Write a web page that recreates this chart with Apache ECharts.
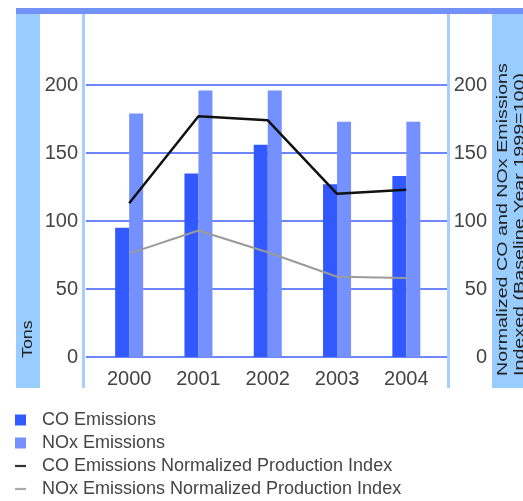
<!DOCTYPE html>
<html>
<head>
<meta charset="utf-8">
<script src="https://cdn.jsdelivr.net/npm/echarts@6/dist/echarts.min.js"></script>
<style>
html,body{margin:0;padding:0;background:#fff;}
#chart{width:523px;height:501px;}
</style>
</head>
<body>
<div id="chart"></div>
<script>
var years = ['2000', '2001', '2002', '2003', '2004'];
var coEmissions = [95, 135, 156, 127, 133];
var noxEmissions = [179, 196, 196, 173, 173];
var coIndex = [113, 177, 174, 120, 123];
var noxIndex = [76, 93, 77, 59, 58];
var yTicks = [0, 50, 100, 150, 200];

var FONT = '"Liberation Sans", Arial, sans-serif';
var chart = echarts.init(document.getElementById('chart'), null, {renderer: 'canvas'});
var DASH = 'path://M0,0 L10,0 L10,2 L0,2 Z';

var option = {
  animation: false,
  backgroundColor: '#ffffff',
  grid: [
    {left: 86, right: 76, top: 85, bottom: 144},
    {left: 94.5, right: 82, top: 85, bottom: 144}
  ],
  xAxis: [
    {type: 'category', gridIndex: 0, data: years, show: false},
    {type: 'category', gridIndex: 1, data: years,
     axisLine: {show: false}, axisTick: {show: false},
     axisLabel: {color: '#444', fontSize: 20, fontFamily: FONT, margin: 12}}
  ],
  yAxis: [
    {type: 'value', gridIndex: 0, min: yTicks[0], max: yTicks[yTicks.length - 1], interval: 50,
     position: 'left',
     axisLine: {show: false}, axisTick: {show: false},
     axisLabel: {color: '#444', fontSize: 20, fontFamily: FONT, margin: 8},
     splitLine: {show: true, lineStyle: {color: '#3c5cff', width: 1.5}}},
    {type: 'value', gridIndex: 0, min: yTicks[0], max: yTicks[yTicks.length - 1], interval: 50,
     position: 'right',
     axisLine: {show: false}, axisTick: {show: false},
     axisLabel: {color: '#444', fontSize: 20, fontFamily: FONT, margin: 40, align: 'right'},
     splitLine: {show: false}},
    {type: 'value', gridIndex: 1, min: 0, max: 200, show: false},
    {type: 'value', gridIndex: 1, min: 0, max: 200, show: false}
  ],
  legend: {
    orient: 'vertical',
    left: 15,
    top: 411,
    padding: 0,
    itemWidth: 11,
    itemHeight: 11,
    itemGap: 5,
    symbolKeepAspect: true,
    textStyle: {color: '#444', fontSize: 18, fontFamily: FONT, lineHeight: 18, padding: [0, 0, 0, 11]},
    data: [
      {name: 'CO Emissions', icon: 'rect'},
      {name: 'NOx Emissions', icon: 'rect'},
      {name: 'CO Emissions Normalized Production Index', icon: DASH},
      {name: 'NOx Emissions Normalized Production Index', icon: DASH}
    ]
  },
  graphic: [
    {type: 'rect', shape: {x: 16, y: 8, width: 507, height: 6}, style: {fill: '#7292f7'}, z: 0},
    {type: 'rect', shape: {x: 16, y: 14, width: 24, height: 374}, style: {fill: '#99ccff'}, z: 0},
    {type: 'rect', shape: {x: 82, y: 14, width: 3, height: 374}, style: {fill: '#a6cfff'}, z: 0},
    {type: 'rect', shape: {x: 447, y: 14, width: 3, height: 374}, style: {fill: '#a6cfff'}, z: 0},
    {type: 'rect', shape: {x: 492, y: 14, width: 31, height: 374}, style: {fill: '#99ccff'}, z: 0},
    {type: 'text', x: 28, y: 358, rotation: Math.PI / 2, scaleX: 1.15, z: 10,
     style: {text: 'Tons', fill: '#222', fontSize: 15.5, fontFamily: FONT,
             textAlign: 'left', textVerticalAlign: 'middle'}},
    {type: 'text', x: 511, y: 376, rotation: Math.PI / 2, scaleX: 1.27, z: 10,
     style: {text: 'Normalized CO and NOx Emissions\nIndexed (Baseline Year 1999=100)',
             fill: '#222', fontSize: 15.5, lineHeight: 17, fontFamily: FONT,
             textAlign: 'left', textVerticalAlign: 'middle'}}
  ],
  series: [
    {name: 'CO Emissions', type: 'bar', xAxisIndex: 1, yAxisIndex: 2, data: coEmissions,
     barWidth: 14, barGap: '0%', itemStyle: {color: '#3259ff'}},
    {name: 'NOx Emissions', type: 'bar', xAxisIndex: 1, yAxisIndex: 2, data: noxEmissions,
     barWidth: 14, barGap: '0%', itemStyle: {color: '#7590ff'}},
    {name: 'CO Emissions Normalized Production Index', type: 'line', xAxisIndex: 1, yAxisIndex: 3,
     data: coIndex, symbol: 'none', lineStyle: {color: '#111', width: 2.5}, itemStyle: {color: '#333'}, z: 5},
    {name: 'NOx Emissions Normalized Production Index', type: 'line', xAxisIndex: 1, yAxisIndex: 3,
     data: noxIndex, symbol: 'none', lineStyle: {color: '#9a9a9a', width: 2}, itemStyle: {color: '#aaaaaa'}, z: 5}
  ]
};
chart.setOption(option);
</script>
</body>
</html>
